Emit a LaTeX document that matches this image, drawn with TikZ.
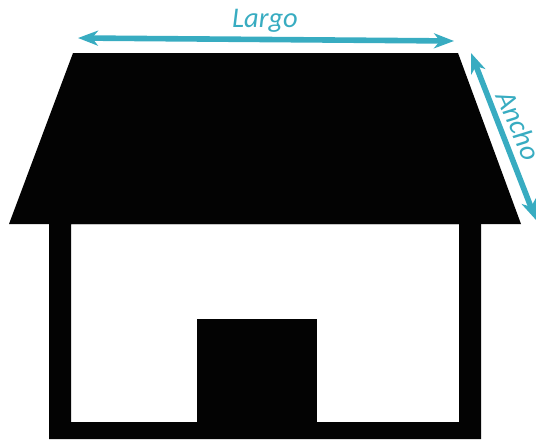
\documentclass[tikz,border=0pt]{standalone}
\usepackage{fontspec}
\setmainfont{Carlito}
\usepackage{tikz}
\usetikzlibrary{
	arrows.meta,
	positioning,
	calc
}
\definecolor{medida}{HTML}{38ACC1}
\definecolor{casa}{HTML}{030303}

\begin{document}
\begin{tikzpicture}[
				x=1pt, y=-1pt,
				solid part/.style={
					fill=casa, draw=none
				},
				dimlabel/.style={
					text=medida, font=\fontsize{28.5}{28.5}\selectfont\itshape,
					inner sep=0pt
				},
				arrow/.style={
					{Stealth[length=20pt, width=15pt, inset=6pt]}-{Stealth[length=20pt, width=15pt, inset=6pt]},
					line width=5.6pt, medida
				}
				]
				\useasboundingbox (0,0) rectangle (537,439);
				
				% roof
				\fill[solid part] (73,53) -- (458,53) -- (521,224) -- (9,224) -- cycle;
				
				% walls
				\fill[solid part, even odd rule] (49,224) rectangle (481,439)
					(71,224) rectangle (459,422);
				
				% door
				\fill[solid part] (197,319) rectangle (317,422);
				
				% corners for the arrows
				\coordinate (largoLeft) at (78,38);
				\coordinate (largoRight) at (454,41);
				\coordinate (anchoTop) at (471,53);
				\coordinate (anchoBottom) at (536,220);
				
				% proper arrows between corners
				\draw[arrow] (largoLeft) -- (largoRight);
				\draw[arrow] (anchoTop) -- (anchoBottom);
				
				% labels
				\node[dimlabel] (largo) at (265,21) {Largo};
				\node[dimlabel, rotate=-66] (ancho) at (519,125.5) {Ancho};
			\end{tikzpicture}
\end{document}
